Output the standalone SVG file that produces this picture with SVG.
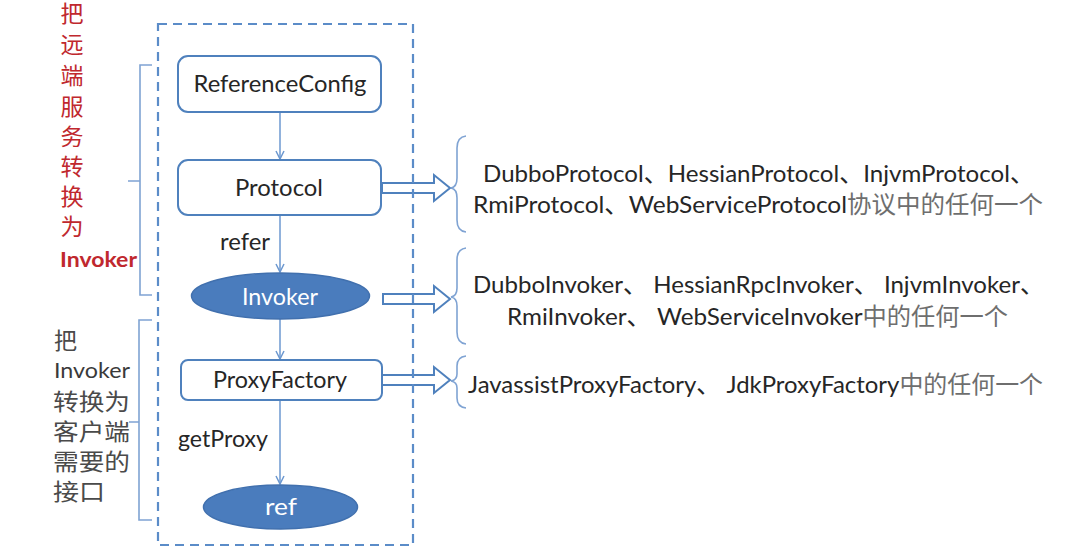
<svg xmlns="http://www.w3.org/2000/svg" width="1068" height="556" viewBox="0 0 1068 556">
<defs>
<style>
.box{fill:#fff;stroke:#4f81bd;stroke-width:2}
.ell{fill:#4a7cbd;stroke:#4170ae;stroke-width:1.5}
.lat{font-family:Lato,"Noto Sans","Noto Sans CJK SC",sans-serif;font-size:24px;fill:#262626}
.wt{fill:#fff}
.cn{font-family:"Noto Sans CJK SC",sans-serif}
.red{font-family:"Noto Sans CJK SC",sans-serif;font-size:23px;fill:#c0282e}
.blk{font-family:"Noto Sans CJK SC",sans-serif;font-size:23px;fill:#4a4a4a}
.conn{stroke:#6c98d0;stroke-width:1.5;fill:none}
.blockarrow{fill:none;stroke:#4f81bd;stroke-width:2;stroke-linejoin:miter}
.brace{fill:none;stroke:#7fa3d3;stroke-width:1.6}
.gray{fill:#6e6e6e}
.latin{font-family:Lato,"Noto Sans",sans-serif;font-size:21px}
</style>
<marker id="arr" viewBox="0 0 10 10" refX="9" refY="5" markerWidth="10" markerHeight="10" markerUnits="userSpaceOnUse" orient="auto">
<path d="M1,1 L9,5 L1,9" fill="none" stroke="#6c98d0" stroke-width="1.5"/>
</marker>
</defs>
<rect width="1068" height="556" fill="#fff"/>

<g id="brackets">
<path class="brace" d="M152,65 H140 V295 H152 M140,181 H128"/>
<path class="brace" d="M152,320 H139 V520 H152 M139,422 H129"/>
<path class="brace" d="M466,136 Q457,137 457,148 L457,178 Q457,187 451,188 Q457,189 457,198 L457,220 Q457,231 466,232"/>
<path class="brace" d="M466,248 Q457,249 457,260 L457,288 Q457,296 451,297 Q457,298 457,306 L457,332 Q457,343 466,344"/>
<path class="brace" d="M466,356 Q457,357 457,366 L457,374 Q457,380 451,381 Q457,382 457,388 L457,398 Q457,407 466,408"/>
</g>

<g id="left-label-1">
<text class="red" x="72" y="22" text-anchor="middle">把</text>
<text class="red" x="72" y="53" text-anchor="middle">远</text>
<text class="red" x="72" y="84" text-anchor="middle">端</text>
<text class="red" x="72" y="115" text-anchor="middle">服</text>
<text class="red" x="72" y="145" text-anchor="middle">务</text>
<text class="red" x="72" y="175" text-anchor="middle">转</text>
<text class="red" x="72" y="205" text-anchor="middle">换</text>
<text class="red" x="72" y="235" text-anchor="middle">为</text>
<text x="60" y="267" class="latin" font-weight="bold" fill="#c0282e" textLength="77" lengthAdjust="spacingAndGlyphs">Invoker</text>
</g>

<g id="left-label-2">
<text class="blk" x="54" y="349">把</text>
<text x="54" y="378" class="latin" fill="#3a3a3a" textLength="76" lengthAdjust="spacingAndGlyphs">Invoker</text>
<text class="blk" x="53" y="410" textLength="77" lengthAdjust="spacingAndGlyphs">转换为</text>
<text class="blk" x="53" y="440" textLength="77" lengthAdjust="spacingAndGlyphs">客户端</text>
<text class="blk" x="53" y="470" textLength="77" lengthAdjust="spacingAndGlyphs">需要的</text>
<text class="blk" x="53" y="500" textLength="52" lengthAdjust="spacingAndGlyphs">接口</text>
</g>

<g id="connectors">
<line class="conn" x1="280" y1="112" x2="280" y2="159" marker-end="url(#arr)"/>
<line class="conn" x1="280" y1="215" x2="280" y2="272" marker-end="url(#arr)"/>
<line class="conn" x1="280" y1="319" x2="280" y2="359" marker-end="url(#arr)"/>
<line class="conn" x1="280" y1="400" x2="280" y2="484" marker-end="url(#arr)"/>
<path class="blockarrow" d="M382,183 H434 V175 L450,188 L434,201 V193 H382 Z"/>
<path class="blockarrow" d="M383,294 H434 V286 L450,299 L434,312 V304 H383 Z"/>
<path class="blockarrow" d="M382,375 H434 V367 L450,380 L434,393 V385 H382 Z"/>
<text class="lat" x="220" y="250" textLength="50" lengthAdjust="spacingAndGlyphs">refer</text>
<text class="lat" x="178" y="447" textLength="90" lengthAdjust="spacingAndGlyphs">getProxy</text>
</g>

<g id="frame">
<rect x="158" y="24" width="255" height="521" fill="none" stroke="#5b8cc8" stroke-width="2.2" stroke-dasharray="9 6"/>
</g>

<g id="ReferenceConfig">
<rect class="box" x="178" y="56" width="203" height="56" rx="10"/>
<text class="lat" x="280" y="92" text-anchor="middle" textLength="173" lengthAdjust="spacingAndGlyphs">ReferenceConfig</text>
</g>

<g id="Protocol">
<rect class="box" x="178" y="160" width="203" height="55" rx="10"/>
<text class="lat" x="279" y="196" text-anchor="middle" textLength="88" lengthAdjust="spacingAndGlyphs">Protocol</text>
</g>

<g id="Invoker">
<ellipse class="ell" cx="280.5" cy="296" rx="89" ry="23"/>
<text class="lat wt" x="280" y="305" text-anchor="middle" textLength="76" lengthAdjust="spacingAndGlyphs">Invoker</text>
</g>

<g id="ProxyFactory">
<rect class="box" x="181" y="360" width="201" height="40" rx="7"/>
<text class="lat" x="280" y="388" text-anchor="middle" textLength="134" lengthAdjust="spacingAndGlyphs">ProxyFactory</text>
</g>

<g id="ref">
<ellipse class="ell" cx="280.5" cy="507" rx="77" ry="22"/>
<text class="lat wt" x="281" y="515" text-anchor="middle" textLength="32" lengthAdjust="spacingAndGlyphs">ref</text>
</g>

<g id="protocol-impls">
<text class="lat" x="483" y="182" textLength="551" lengthAdjust="spacingAndGlyphs">DubboProtocol、HessianProtocol、InjvmProtocol、</text>
<text class="lat" x="473" y="213" textLength="570" lengthAdjust="spacingAndGlyphs">RmiProtocol、WebServiceProtocol<tspan class="cn gray">协议中的任何一个</tspan></text>
</g>

<g id="invoker-impls">
<text class="lat" x="473" y="293" textLength="571" lengthAdjust="spacingAndGlyphs">DubboInvoker、 HessianRpcInvoker、 InjvmInvoker、</text>
<text class="lat" x="507" y="325" textLength="501" lengthAdjust="spacingAndGlyphs">RmiInvoker、 WebServiceInvoker<tspan class="cn gray">中的任何一个</tspan></text>
</g>

<g id="proxy-impls">
<text class="lat" x="468" y="393" textLength="575" lengthAdjust="spacingAndGlyphs">JavassistProxyFactory、 JdkProxyFactory<tspan class="cn gray">中的任何一个</tspan></text>
</g>
</svg>
